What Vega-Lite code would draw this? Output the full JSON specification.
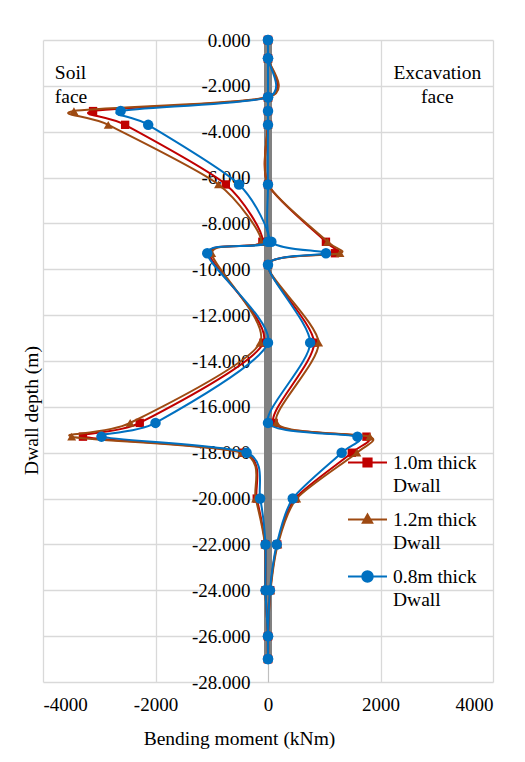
{
  "$schema": "https://vega.github.io/schema/vega-lite/v6.json",
  "autosize": {"type": "none"},
  "width": 450,
  "height": 642,
  "padding": {"left": 43, "top": 40, "right": 32, "bottom": 80},
  "background": "#ffffff",
  "datasets": {
    "moments": [
      {"series": "1.0m thick Dwall", "face": "soil", "seq": 1, "depth": 0, "moment": 0},
      {"series": "1.0m thick Dwall", "face": "soil", "seq": 2, "depth": -0.8, "moment": 0},
      {"series": "1.0m thick Dwall", "face": "soil", "seq": 3, "depth": -2.5, "moment": 0},
      {"series": "1.0m thick Dwall", "face": "soil", "seq": 4, "depth": -3.1, "moment": -3110},
      {"series": "1.0m thick Dwall", "face": "soil", "seq": 5, "depth": -3.7, "moment": -2540},
      {"series": "1.0m thick Dwall", "face": "soil", "seq": 6, "depth": -6.3, "moment": -750},
      {"series": "1.0m thick Dwall", "face": "soil", "seq": 7, "depth": -8.8, "moment": -100},
      {"series": "1.0m thick Dwall", "face": "soil", "seq": 8, "depth": -9.3, "moment": -1050},
      {"series": "1.0m thick Dwall", "face": "soil", "seq": 9, "depth": -13.2, "moment": -80},
      {"series": "1.0m thick Dwall", "face": "soil", "seq": 10, "depth": -16.7, "moment": -2280},
      {"series": "1.0m thick Dwall", "face": "soil", "seq": 11, "depth": -17.3, "moment": -3290},
      {"series": "1.0m thick Dwall", "face": "soil", "seq": 12, "depth": -18, "moment": -430},
      {"series": "1.0m thick Dwall", "face": "soil", "seq": 13, "depth": -20, "moment": -200},
      {"series": "1.0m thick Dwall", "face": "soil", "seq": 14, "depth": -22, "moment": -50},
      {"series": "1.0m thick Dwall", "face": "soil", "seq": 15, "depth": -24, "moment": -45},
      {"series": "1.0m thick Dwall", "face": "soil", "seq": 16, "depth": -26, "moment": 0},
      {"series": "1.0m thick Dwall", "face": "soil", "seq": 17, "depth": -27, "moment": 0},
      {"series": "1.0m thick Dwall", "face": "excavation", "seq": 1, "depth": 0, "moment": 0},
      {"series": "1.0m thick Dwall", "face": "excavation", "seq": 2, "depth": -0.8, "moment": 0},
      {"series": "1.0m thick Dwall", "face": "excavation", "seq": 3, "depth": -2.5, "moment": 0},
      {"series": "1.0m thick Dwall", "face": "excavation", "seq": 4, "depth": -3.1, "moment": 0},
      {"series": "1.0m thick Dwall", "face": "excavation", "seq": 5, "depth": -3.7, "moment": 0},
      {"series": "1.0m thick Dwall", "face": "excavation", "seq": 6, "depth": -6.3, "moment": 0},
      {"series": "1.0m thick Dwall", "face": "excavation", "seq": 7, "depth": -8.8, "moment": 1030},
      {"series": "1.0m thick Dwall", "face": "excavation", "seq": 8, "depth": -9.3, "moment": 1190},
      {"series": "1.0m thick Dwall", "face": "excavation", "seq": 9, "depth": -9.8, "moment": 0},
      {"series": "1.0m thick Dwall", "face": "excavation", "seq": 10, "depth": -13.2, "moment": 820},
      {"series": "1.0m thick Dwall", "face": "excavation", "seq": 11, "depth": -16.7, "moment": 100},
      {"series": "1.0m thick Dwall", "face": "excavation", "seq": 12, "depth": -17.3, "moment": 1750},
      {"series": "1.0m thick Dwall", "face": "excavation", "seq": 13, "depth": -18, "moment": 1490},
      {"series": "1.0m thick Dwall", "face": "excavation", "seq": 14, "depth": -20, "moment": 480},
      {"series": "1.0m thick Dwall", "face": "excavation", "seq": 15, "depth": -22, "moment": 165},
      {"series": "1.0m thick Dwall", "face": "excavation", "seq": 16, "depth": -24, "moment": 40},
      {"series": "1.0m thick Dwall", "face": "excavation", "seq": 17, "depth": -26, "moment": 0},
      {"series": "1.0m thick Dwall", "face": "excavation", "seq": 18, "depth": -27, "moment": 0},

      {"series": "1.2m thick Dwall", "face": "soil", "seq": 1, "depth": 0, "moment": 0},
      {"series": "1.2m thick Dwall", "face": "soil", "seq": 2, "depth": -0.8, "moment": 0},
      {"series": "1.2m thick Dwall", "face": "soil", "seq": 3, "depth": -2.5, "moment": 0},
      {"series": "1.2m thick Dwall", "face": "soil", "seq": 4, "depth": -3.1, "moment": -3450},
      {"series": "1.2m thick Dwall", "face": "soil", "seq": 5, "depth": -3.7, "moment": -2840},
      {"series": "1.2m thick Dwall", "face": "soil", "seq": 6, "depth": -6.3, "moment": -880},
      {"series": "1.2m thick Dwall", "face": "soil", "seq": 7, "depth": -8.8, "moment": -120},
      {"series": "1.2m thick Dwall", "face": "soil", "seq": 8, "depth": -9.3, "moment": -1000},
      {"series": "1.2m thick Dwall", "face": "soil", "seq": 9, "depth": -13.2, "moment": -140},
      {"series": "1.2m thick Dwall", "face": "soil", "seq": 10, "depth": -16.7, "moment": -2450},
      {"series": "1.2m thick Dwall", "face": "soil", "seq": 11, "depth": -17.3, "moment": -3490},
      {"series": "1.2m thick Dwall", "face": "soil", "seq": 12, "depth": -18, "moment": -460},
      {"series": "1.2m thick Dwall", "face": "soil", "seq": 13, "depth": -20, "moment": -220},
      {"series": "1.2m thick Dwall", "face": "soil", "seq": 14, "depth": -22, "moment": -55},
      {"series": "1.2m thick Dwall", "face": "soil", "seq": 15, "depth": -24, "moment": -45},
      {"series": "1.2m thick Dwall", "face": "soil", "seq": 16, "depth": -26, "moment": 0},
      {"series": "1.2m thick Dwall", "face": "soil", "seq": 17, "depth": -27, "moment": 0},
      {"series": "1.2m thick Dwall", "face": "excavation", "seq": 1, "depth": 0, "moment": 0},
      {"series": "1.2m thick Dwall", "face": "excavation", "seq": 2, "depth": -0.8, "moment": 0},
      {"series": "1.2m thick Dwall", "face": "excavation", "seq": 3, "depth": -2.5, "moment": 0},
      {"series": "1.2m thick Dwall", "face": "excavation", "seq": 4, "depth": -3.1, "moment": 0},
      {"series": "1.2m thick Dwall", "face": "excavation", "seq": 5, "depth": -3.7, "moment": 0},
      {"series": "1.2m thick Dwall", "face": "excavation", "seq": 6, "depth": -6.3, "moment": 0},
      {"series": "1.2m thick Dwall", "face": "excavation", "seq": 7, "depth": -8.8, "moment": 1060},
      {"series": "1.2m thick Dwall", "face": "excavation", "seq": 8, "depth": -9.3, "moment": 1280},
      {"series": "1.2m thick Dwall", "face": "excavation", "seq": 9, "depth": -9.8, "moment": 0},
      {"series": "1.2m thick Dwall", "face": "excavation", "seq": 10, "depth": -13.2, "moment": 900},
      {"series": "1.2m thick Dwall", "face": "excavation", "seq": 11, "depth": -16.7, "moment": 150},
      {"series": "1.2m thick Dwall", "face": "excavation", "seq": 12, "depth": -17.3, "moment": 1810},
      {"series": "1.2m thick Dwall", "face": "excavation", "seq": 13, "depth": -18, "moment": 1580},
      {"series": "1.2m thick Dwall", "face": "excavation", "seq": 14, "depth": -20, "moment": 510},
      {"series": "1.2m thick Dwall", "face": "excavation", "seq": 15, "depth": -22, "moment": 175},
      {"series": "1.2m thick Dwall", "face": "excavation", "seq": 16, "depth": -24, "moment": 45},
      {"series": "1.2m thick Dwall", "face": "excavation", "seq": 17, "depth": -26, "moment": 0},
      {"series": "1.2m thick Dwall", "face": "excavation", "seq": 18, "depth": -27, "moment": 0},

      {"series": "0.8m thick Dwall", "face": "soil", "seq": 1, "depth": 0, "moment": 0},
      {"series": "0.8m thick Dwall", "face": "soil", "seq": 2, "depth": -0.8, "moment": 0},
      {"series": "0.8m thick Dwall", "face": "soil", "seq": 3, "depth": -2.5, "moment": 0},
      {"series": "0.8m thick Dwall", "face": "soil", "seq": 4, "depth": -3.1, "moment": -2620},
      {"series": "0.8m thick Dwall", "face": "soil", "seq": 5, "depth": -3.7, "moment": -2130},
      {"series": "0.8m thick Dwall", "face": "soil", "seq": 6, "depth": -6.3, "moment": -515},
      {"series": "0.8m thick Dwall", "face": "soil", "seq": 7, "depth": -8.8, "moment": 0},
      {"series": "0.8m thick Dwall", "face": "soil", "seq": 8, "depth": -9.3, "moment": -1080},
      {"series": "0.8m thick Dwall", "face": "soil", "seq": 9, "depth": -13.2, "moment": 0},
      {"series": "0.8m thick Dwall", "face": "soil", "seq": 10, "depth": -16.7, "moment": -2000},
      {"series": "0.8m thick Dwall", "face": "soil", "seq": 11, "depth": -17.3, "moment": -2960},
      {"series": "0.8m thick Dwall", "face": "soil", "seq": 12, "depth": -18, "moment": -380},
      {"series": "0.8m thick Dwall", "face": "soil", "seq": 13, "depth": -20, "moment": -140},
      {"series": "0.8m thick Dwall", "face": "soil", "seq": 14, "depth": -22, "moment": -45},
      {"series": "0.8m thick Dwall", "face": "soil", "seq": 15, "depth": -24, "moment": -45},
      {"series": "0.8m thick Dwall", "face": "soil", "seq": 16, "depth": -26, "moment": 0},
      {"series": "0.8m thick Dwall", "face": "soil", "seq": 17, "depth": -27, "moment": 0},
      {"series": "0.8m thick Dwall", "face": "excavation", "seq": 1, "depth": 0, "moment": 0},
      {"series": "0.8m thick Dwall", "face": "excavation", "seq": 2, "depth": -0.8, "moment": 0},
      {"series": "0.8m thick Dwall", "face": "excavation", "seq": 3, "depth": -2.5, "moment": 0},
      {"series": "0.8m thick Dwall", "face": "excavation", "seq": 4, "depth": -3.1, "moment": 0},
      {"series": "0.8m thick Dwall", "face": "excavation", "seq": 5, "depth": -3.7, "moment": 0},
      {"series": "0.8m thick Dwall", "face": "excavation", "seq": 6, "depth": -6.3, "moment": 0},
      {"series": "0.8m thick Dwall", "face": "excavation", "seq": 7, "depth": -8.8, "moment": 60},
      {"series": "0.8m thick Dwall", "face": "excavation", "seq": 8, "depth": -9.3, "moment": 1030},
      {"series": "0.8m thick Dwall", "face": "excavation", "seq": 9, "depth": -9.8, "moment": 0},
      {"series": "0.8m thick Dwall", "face": "excavation", "seq": 10, "depth": -13.2, "moment": 750},
      {"series": "0.8m thick Dwall", "face": "excavation", "seq": 11, "depth": -16.7, "moment": 0},
      {"series": "0.8m thick Dwall", "face": "excavation", "seq": 12, "depth": -17.3, "moment": 1590},
      {"series": "0.8m thick Dwall", "face": "excavation", "seq": 13, "depth": -18, "moment": 1310},
      {"series": "0.8m thick Dwall", "face": "excavation", "seq": 14, "depth": -20, "moment": 440},
      {"series": "0.8m thick Dwall", "face": "excavation", "seq": 15, "depth": -22, "moment": 155},
      {"series": "0.8m thick Dwall", "face": "excavation", "seq": 16, "depth": -24, "moment": 35},
      {"series": "0.8m thick Dwall", "face": "excavation", "seq": 17, "depth": -26, "moment": 0},
      {"series": "0.8m thick Dwall", "face": "excavation", "seq": 18, "depth": -27, "moment": 0}
    ],
    "wall": [
      {"depth": 0, "moment": 0},
      {"depth": -27, "moment": 0}
    ],
    "soilNote": [
      {"note": "Soil\nface", "depth": -1.44, "moment": -3790}
    ],
    "excavationNote": [
      {"note": "Excavation\nface", "depth": -1.44, "moment": 3010}
    ]
  },
  "encoding": {
    "x": {
      "field": "moment",
      "type": "quantitative",
      "scale": {"domain": [-4000, 4000], "nice": false, "zero": false},
      "axis": {
        "values": [-4000, -2000, 0, 2000, 4000],
        "labelExpr": "replace(format(datum.value, 'd'), '\u2212', '-')",
        "grid": true,
        "domain": false,
        "ticks": false,
        "labelPadding": 13,
        "title": "Bending moment (kNm)",
        "titleX": 196,
        "titleY": 56,
        "titleBaseline": "middle"
      }
    },
    "y": {
      "field": "depth",
      "type": "quantitative",
      "scale": {"domain": [-28, 0], "nice": false, "zero": false},
      "axis": {
        "values": [0, -2, -4, -6, -8, -10, -12, -14, -16, -18, -20, -22, -24, -26, -28],
        "labelExpr": "replace(format(datum.value, '.3f'), '\u2212', '-')",
        "offset": -225,
        "grid": true,
        "domain": true,
        "domainColor": "#bfbfbf",
        "domainWidth": 1,
        "ticks": false,
        "labelPadding": 18,
        "title": "Dwall depth  (m)",
        "titleAngle": 270,
        "titleX": -237,
        "titleY": 370,
        "titleAlign": "center",
        "titleBaseline": "middle"
      }
    }
  },
  "layer": [
    {
      "data": {"name": "wall"},
      "mark": {"type": "line", "color": "#808080", "strokeWidth": 8, "strokeCap": "butt"},
      "encoding": {}
    },
    {
      "data": {"name": "moments"},
      "encoding": {
        "color": {
          "field": "series",
          "type": "nominal",
          "scale": {
            "domain": ["1.0m thick Dwall", "1.2m thick Dwall", "0.8m thick Dwall"],
            "range": ["#c00000", "#9e4a12", "#0070c0"]
          },
          "legend": {
            "title": null,
            "orient": "none",
            "legendX": 304,
            "legendY": 402,
            "padding": 0,
            "rowPadding": 4,
            "symbolSize": 1521,
            "symbolStrokeWidth": 2,
            "labelOffset": 5,
            "labelBaseline": "alphabetic",
            "labelLimit": 0,
            "labelExpr": "[replace(datum.label, ' Dwall', ''), 'Dwall']",
            "encode": {
              "symbols": {
                "update": {
                  "shape": {"signal": "datum.value === '1.0m thick Dwall' ? 'M-1,0H1M-0.21,-0.21H0.21V0.21H-0.21Z' : datum.value === '1.2m thick Dwall' ? 'M-1,0H1M0,-0.26L0.24,0.17H-0.24Z' : 'M-1,0H1M-0.27,0A0.27,0.27,0,1,0,0.27,0A0.27,0.27,0,1,0,-0.27,0Z'"},
                  "fill": {"signal": "scale('color', datum.value)"},
                  "stroke": {"signal": "scale('color', datum.value)"},
                  "strokeWidth": {"value": 2},
                  "size": {"value": 1521},
                  "opacity": {"value": 1}
                }
              },
              "labels": {
                "update": {
                  "lineHeight": {"value": 23},
                  "dy": {"value": 6}
                }
              }
            }
          }
        },
        "detail": {"field": "face"},
        "order": {"field": "seq", "type": "quantitative"}
      },
      "layer": [
        {
          "transform": [{"filter": "datum.series === '1.0m thick Dwall'"}],
          "mark": {"type": "line", "interpolate": "cardinal", "tension": 0.25, "strokeWidth": 2}
        },
        {
          "transform": [{"filter": "datum.series === '1.0m thick Dwall'"}],
          "mark": {"type": "point", "shape": "square", "filled": true, "opacity": 1, "size": 70}
        },
        {
          "transform": [{"filter": "datum.series === '1.2m thick Dwall'"}],
          "mark": {"type": "line", "interpolate": "cardinal", "tension": 0.25, "strokeWidth": 2}
        },
        {
          "transform": [{"filter": "datum.series === '1.2m thick Dwall'"}],
          "mark": {"type": "point", "shape": "triangle-up", "filled": true, "opacity": 1, "size": 80}
        },
        {
          "transform": [{"filter": "datum.series === '0.8m thick Dwall'"}],
          "mark": {"type": "line", "interpolate": "cardinal", "tension": 0.25, "strokeWidth": 2}
        },
        {
          "transform": [{"filter": "datum.series === '0.8m thick Dwall'"}],
          "mark": {"type": "point", "shape": "circle", "filled": true, "opacity": 1, "size": 110}
        }
      ]
    },
    {
      "data": {"name": "soilNote"},
      "mark": {"type": "text", "align": "left", "baseline": "middle", "lineBreak": "\n", "lineHeight": 24, "fontSize": 19.5, "font": "Times New Roman, Liberation Serif, DejaVu Serif, serif", "color": "#000000"},
      "encoding": {"text": {"field": "note"}}
    },
    {
      "data": {"name": "excavationNote"},
      "mark": {"type": "text", "align": "center", "baseline": "middle", "lineBreak": "\n", "lineHeight": 24, "fontSize": 19.5, "font": "Times New Roman, Liberation Serif, DejaVu Serif, serif", "color": "#000000"},
      "encoding": {"text": {"field": "note"}}
    }
  ],
  "config": {
    "font": "Times New Roman, Liberation Serif, DejaVu Serif, serif",
    "view": {"stroke": null},
    "axis": {
      "gridColor": "#d9d9d9",
      "gridWidth": 1.3,
      "labelFont": "Times New Roman, Liberation Serif, DejaVu Serif, serif",
      "labelFontSize": 19,
      "labelColor": "#000000",
      "titleFont": "Times New Roman, Liberation Serif, DejaVu Serif, serif",
      "titleFontSize": 19.5,
      "titleFontWeight": "normal",
      "titleColor": "#000000"
    },
    "legend": {
      "labelFont": "Times New Roman, Liberation Serif, DejaVu Serif, serif",
      "labelFontSize": 19.5,
      "labelColor": "#000000"
    }
  }
}
